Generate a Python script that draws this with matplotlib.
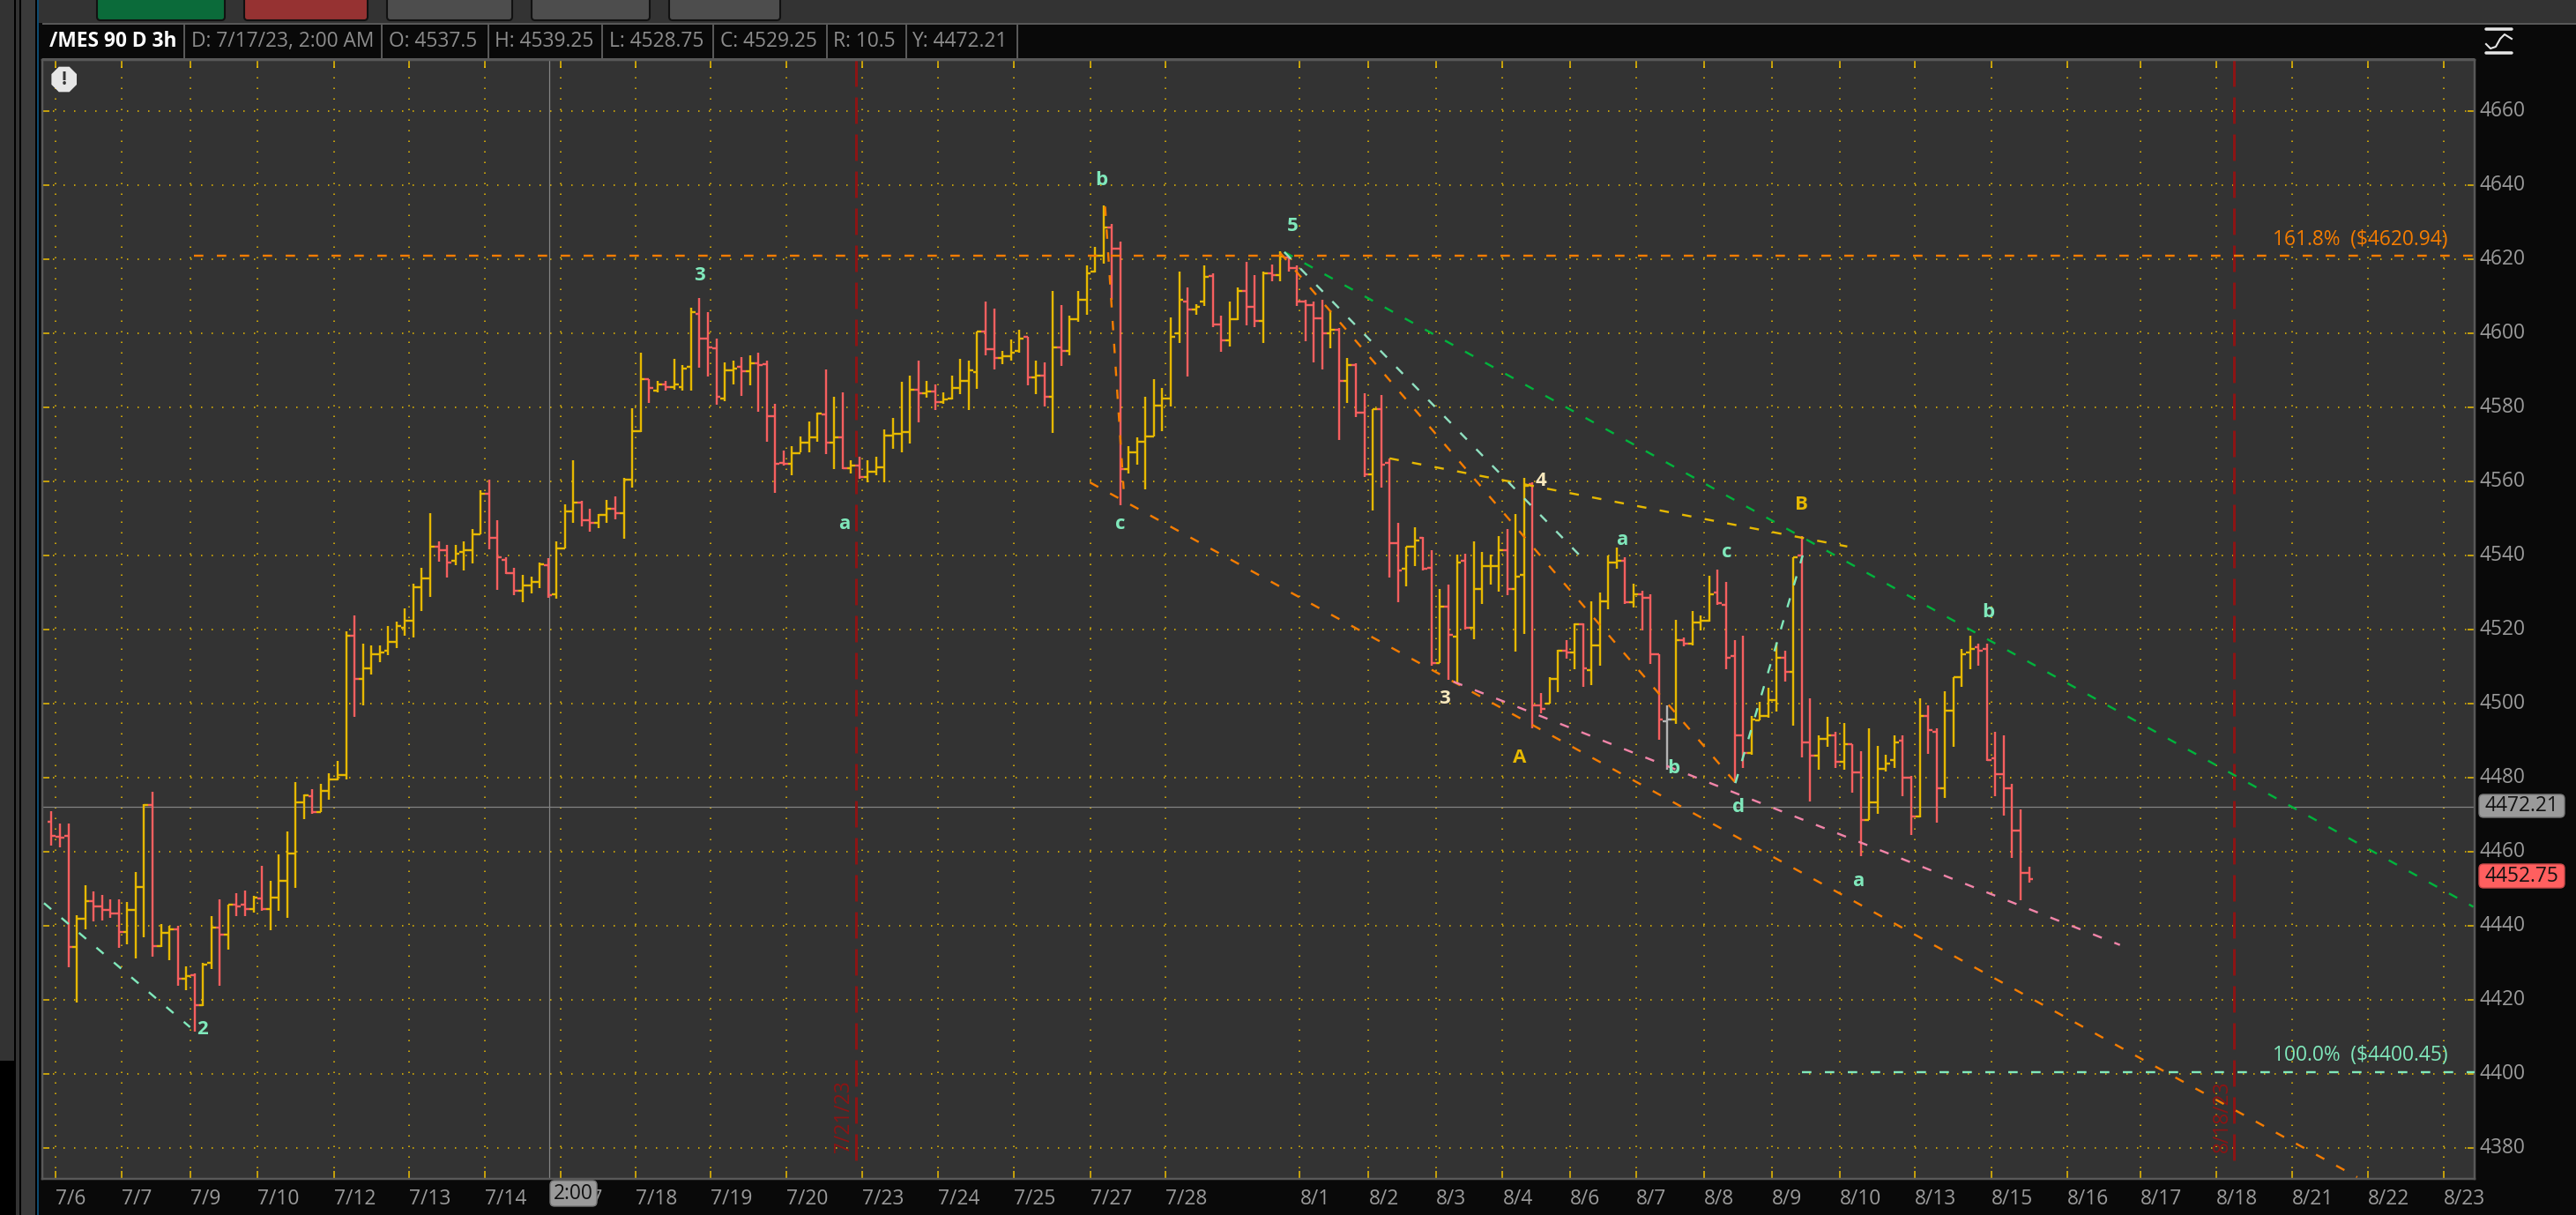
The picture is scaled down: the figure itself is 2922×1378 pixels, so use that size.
import matplotlib
matplotlib.use("Agg")
import matplotlib.pyplot as plt
from matplotlib.patches import Rectangle, FancyBboxPatch, RegularPolygon

plt.rcParams['font.family'] = ['Open Sans', 'DejaVu Sans']
plt.rcParams['lines.scale_dashes'] = False

# 3h bars of /MES
opens = [4468.1, 4464.2, 4464.4, 4434.3, 4441.9, 4446.7, 4445.2, 4444.4, 4443.4, 4438.5,
         4444.4, 4450.6, 4472.8, 4434.7, 4438.2, 4439.2, 4425.7, 4426.7, 4418.7, 4430.0,
         4439.5, 4437.8, 4445.7, 4445.7, 4444.7, 4447.5, 4444.7, 4447.8, 4452.2, 4459.6,
         4473.3, 4475.0, 4470.9, 4476.4, 4479.5, 4480.7, 4518.3, 4506.7, 4509.5, 4513.3,
         4514.3, 4516.7, 4520.5, 4522.4, 4531.4, 4533.8, 4542.4, 4541.4, 4538.6, 4541.0,
         4541.4, 4545.7, 4556.7, 4544.8, 4539.0, 4535.2, 4530.5, 4531.9, 4532.9, 4537.5,
         4529.5, 4541.9, 4551.9, 4554.3, 4549.6, 4549.0, 4551.0, 4552.8, 4551.4, 4560.5,
         4573.7, 4587.7, 4584.7, 4586.3, 4585.6, 4585.6, 4591.0, 4605.3, 4598.6, 4596.0,
         4582.4, 4590.0, 4591.1, 4589.8, 4591.9, 4591.7, 4577.7, 4565.0, 4564.8, 4567.6,
         4570.5, 4572.0, 4578.2, 4570.5, 4572.0, 4563.7, 4564.4, 4561.3, 4562.8, 4563.8,
         4572.4, 4572.9, 4573.3, 4584.8, 4583.8, 4584.3, 4581.4, 4582.5, 4585.2, 4587.1,
         4589.5, 4600.5, 4595.7, 4593.4, 4593.8, 4595.2, 4599.0, 4588.1, 4588.6, 4582.9,
         4596.2, 4595.2, 4603.8, 4609.0, 4616.7, 4621.0, 4628.6, 4622.9, 4563.3, 4567.9,
         4570.9, 4572.2, 4580.6, 4582.4, 4600.0, 4608.7, 4606.6, 4608.6, 4615.5, 4602.4,
         4598.2, 4603.8, 4611.5, 4607.1, 4603.3, 4616.3, 4615.7, 4620.6, 4617.6, 4608.6,
         4607.6, 4604.2, 4600.0, 4601.0, 4587.1, 4591.4, 4578.6, 4561.9, 4579.5, 4565.1,
         4543.3, 4536.5, 4542.5, 4544.8, 4536.7, 4511.0, 4526.2, 4518.1, 4538.6, 4520.5,
         4531.0, 4537.1, 4537.1, 4541.4, 4531.0, 4534.8, 4559.3, 4499.5, 4500.0, 4506.7,
         4514.3, 4513.8, 4521.4, 4509.1, 4515.7, 4527.6, 4538.1, 4538.6, 4527.5, 4529.5,
         4528.6, 4513.3, 4495.2, 4495.7, 4517.1, 4516.2, 4521.9, 4522.4, 4530.0, 4526.8,
         4512.9, 4491.4, 4486.7, 4495.6, 4496.7, 4501.0, 4512.4, 4508.6, 4540.0, 4489.5,
         4486.1, 4490.5, 4491.4, 4484.3, 4489.2, 4481.4, 4468.6, 4473.3, 4482.4, 4484.8,
         4490.0, 4480.0, 4469.5, 4496.7, 4492.4, 4477.1, 4498.1, 4507.1, 4513.8, 4515.2,
         4514.8, 4485.2, 4481.0, 4477.1, 4465.7, 4454.4]
highs = [4471.1, 4467.8, 4467.8, 4443.0, 4451.1, 4449.3, 4448.3, 4447.3, 4447.3, 4446.4,
         4454.5, 4473.0, 4476.3, 4440.6, 4440.1, 4440.1, 4429.2, 4427.2, 4430.0, 4442.6,
         4447.3, 4445.7, 4448.8, 4449.6, 4448.1, 4456.3, 4452.2, 4459.3, 4465.5, 4478.8,
         4475.6, 4476.9, 4478.3, 4481.2, 4484.5, 4519.6, 4524.0, 4516.3, 4515.8, 4515.8,
         4521.1, 4522.1, 4525.9, 4532.5, 4536.8, 4551.6, 4544.0, 4543.0, 4543.0, 4544.0,
         4547.3, 4557.8, 4560.6, 4549.7, 4539.5, 4536.8, 4534.9, 4534.4, 4538.1, 4539.25,
         4544.0, 4554.0, 4565.8, 4554.9, 4552.6, 4551.2, 4555.0, 4556.0, 4561.1, 4579.8,
         4594.9, 4587.7, 4587.3, 4587.3, 4593.1, 4591.5, 4606.9, 4609.7, 4605.9, 4598.7,
         4592.1, 4592.6, 4593.7, 4594.0, 4594.9, 4592.6, 4581.1, 4568.3, 4569.6, 4572.1,
         4576.3, 4578.7, 4590.2, 4583.0, 4584.0, 4565.9, 4566.8, 4565.9, 4566.8, 4574.0,
         4577.3, 4586.9, 4588.7, 4592.6, 4587.3, 4586.3, 4584.0, 4588.7, 4593.1, 4592.6,
         4600.6, 4608.7, 4606.8, 4595.4, 4598.3, 4601.1, 4599.2, 4592.6, 4592.1, 4611.6,
         4607.8, 4604.8, 4611.6, 4618.3, 4623.4, 4634.5, 4629.6, 4624.8, 4569.6, 4572.0,
         4582.9, 4587.7, 4585.3, 4604.4, 4616.7, 4612.5, 4607.9, 4618.3, 4616.3, 4604.9,
         4608.7, 4612.5, 4619.3, 4615.9, 4616.7, 4618.7, 4622.1, 4620.8, 4618.3, 4609.0,
         4608.7, 4609.1, 4606.3, 4601.4, 4593.4, 4591.9, 4583.9, 4579.6, 4583.4, 4566.3,
         4549.0, 4542.5, 4547.8, 4545.0, 4541.6, 4531.1, 4532.1, 4540.2, 4540.6, 4544.0,
         4541.1, 4540.2, 4545.4, 4547.2, 4551.2, 4561.1, 4559.9, 4503.0, 4507.1, 4514.7,
         4517.3, 4521.8, 4521.8, 4527.6, 4530.0, 4540.1, 4542.1, 4539.5, 4532.5, 4530.6,
         4529.5, 4513.3, 4499.6, 4522.6, 4517.9, 4525.0, 4523.8, 4534.5, 4536.3, 4532.9,
         4517.3, 4518.3, 4496.7, 4500.6, 4504.4, 4516.4, 4514.4, 4539.7, 4545.2, 4501.6,
         4491.5, 4496.4, 4492.5, 4494.9, 4489.2, 4487.3, 4493.5, 4488.7, 4486.3, 4491.6,
         4491.6, 4480.5, 4501.6, 4499.6, 4493.3, 4503.4, 4507.1, 4514.9, 4518.3, 4516.3,
         4516.3, 4492.5, 4491.5, 4478.3, 4471.4, 4456.0]
lows = [4461.7, 4461.2, 4429.0, 4419.3, 4439.2, 4441.3, 4441.6, 4442.1, 4434.1, 4435.1,
        4431.3, 4437.0, 4431.8, 4434.4, 4430.8, 4423.8, 4422.8, 4411.5, 4418.3, 4428.5,
        4423.8, 4433.7, 4442.6, 4442.6, 4443.7, 4444.2, 4439.0, 4444.2, 4442.1, 4450.4,
        4468.9, 4470.4, 4470.9, 4474.2, 4479.4, 4479.7, 4496.4, 4499.7, 4507.9, 4511.3,
        4513.2, 4515.1, 4518.4, 4517.9, 4525.1, 4528.9, 4538.4, 4534.1, 4537.5, 4536.0,
        4537.9, 4545.7, 4541.7, 4530.8, 4535.1, 4529.4, 4527.5, 4529.8, 4531.3, 4528.75,
        4528.4, 4541.9, 4548.9, 4547.9, 4546.4, 4547.5, 4548.8, 4549.8, 4544.6, 4558.3,
        4573.3, 4581.2, 4584.1, 4584.7, 4584.9, 4584.7, 4584.5, 4590.7, 4588.3, 4580.7,
        4581.7, 4586.3, 4583.1, 4586.0, 4578.8, 4570.8, 4556.9, 4564.3, 4561.7, 4567.9,
        4567.9, 4570.7, 4567.5, 4563.5, 4563.5, 4562.1, 4560.7, 4559.8, 4561.7, 4559.8,
        4568.8, 4567.9, 4570.2, 4576.0, 4582.7, 4579.3, 4581.0, 4582.1, 4583.6, 4579.3,
        4585.0, 4594.0, 4590.2, 4591.7, 4592.6, 4594.8, 4586.0, 4583.6, 4580.2, 4573.2,
        4591.2, 4594.0, 4603.2, 4605.0, 4616.4, 4618.9, 4609.1, 4553.7, 4562.3, 4564.7,
        4557.9, 4572.2, 4573.7, 4580.3, 4597.5, 4588.3, 4605.0, 4607.5, 4601.7, 4595.0,
        4596.4, 4603.6, 4602.2, 4601.7, 4597.4, 4614.1, 4614.1, 4616.7, 4607.5, 4598.0,
        4592.2, 4590.2, 4596.0, 4571.3, 4581.2, 4577.4, 4561.3, 4552.2, 4558.3, 4534.1,
        4527.5, 4531.7, 4537.3, 4536.1, 4510.3, 4511.0, 4506.5, 4505.6, 4520.0, 4517.5,
        4527.0, 4532.2, 4530.3, 4529.4, 4514.1, 4518.8, 4493.3, 4497.5, 4500.0, 4503.2,
        4512.1, 4509.4, 4504.6, 4505.0, 4510.2, 4525.6, 4536.5, 4527.0, 4526.0, 4519.8,
        4510.7, 4490.2, 4482.1, 4494.6, 4515.5, 4515.7, 4519.8, 4522.2, 4526.8, 4509.4,
        4478.6, 4482.7, 4486.3, 4495.6, 4496.2, 4498.0, 4506.0, 4494.2, 4485.6, 4473.6,
        4482.3, 4488.5, 4482.8, 4482.3, 4476.0, 4458.8, 4468.6, 4470.2, 4481.7, 4482.7,
        4475.0, 4464.5, 4469.4, 4486.5, 4467.9, 4474.6, 4488.3, 4504.5, 4509.3, 4510.2,
        4484.5, 4475.0, 4469.8, 4458.3, 4447.0, 4451.7]
closes = [4464.4, 4463.9, 4434.3, 4441.9, 4446.7, 4445.2, 4444.4, 4443.4, 4438.5, 4444.4,
          4450.6, 4472.8, 4434.7, 4438.2, 4439.2, 4425.7, 4426.5, 4418.7, 4429.6, 4439.5,
          4437.8, 4445.7, 4445.2, 4444.7, 4447.8, 4444.7, 4447.8, 4452.2, 4459.6, 4473.3,
          4475.2, 4470.9, 4476.4, 4479.5, 4480.7, 4518.3, 4506.7, 4509.5, 4513.3, 4513.8,
          4516.7, 4521.0, 4522.4, 4531.4, 4533.8, 4542.4, 4541.4, 4538.1, 4540.5, 4541.4,
          4545.7, 4556.7, 4544.8, 4539.5, 4535.2, 4530.5, 4531.9, 4532.9, 4537.6, 4529.25,
          4541.9, 4551.9, 4554.3, 4549.5, 4549.0, 4551.0, 4552.8, 4551.4, 4560.5, 4573.7,
          4587.7, 4585.2, 4586.3, 4585.6, 4586.3, 4590.5, 4605.8, 4598.6, 4596.2, 4582.9,
          4590.0, 4590.5, 4589.8, 4591.9, 4591.6, 4577.7, 4564.8, 4564.8, 4567.6, 4570.5,
          4572.0, 4578.3, 4570.5, 4572.0, 4563.7, 4564.4, 4561.3, 4562.8, 4563.8, 4572.4,
          4572.9, 4573.3, 4584.8, 4583.8, 4584.3, 4581.4, 4582.1, 4585.2, 4587.1, 4590.0,
          4600.5, 4595.7, 4593.4, 4593.8, 4594.8, 4598.6, 4588.1, 4588.6, 4582.9, 4596.2,
          4595.2, 4603.8, 4609.0, 4616.2, 4621.0, 4628.6, 4622.9, 4563.3, 4567.9, 4570.9,
          4572.2, 4580.6, 4582.4, 4599.0, 4609.1, 4606.6, 4607.1, 4615.2, 4602.4, 4598.2,
          4603.8, 4611.5, 4607.1, 4603.3, 4616.3, 4615.7, 4620.8, 4617.6, 4608.6, 4607.6,
          4604.2, 4600.0, 4601.0, 4587.1, 4591.4, 4578.6, 4561.9, 4579.5, 4564.7, 4543.3,
          4536.1, 4542.5, 4544.2, 4536.5, 4511.0, 4526.2, 4518.6, 4538.1, 4520.5, 4531.0,
          4537.1, 4537.1, 4541.4, 4531.0, 4534.3, 4559.0, 4499.5, 4498.6, 4506.7, 4514.3,
          4513.8, 4521.4, 4509.5, 4515.7, 4527.6, 4538.1, 4538.6, 4527.5, 4529.5, 4528.6,
          4513.3, 4495.7, 4495.7, 4517.1, 4516.2, 4521.9, 4522.4, 4529.5, 4527.1, 4512.4,
          4491.4, 4486.7, 4495.7, 4496.7, 4501.0, 4512.4, 4508.6, 4539.5, 4489.5, 4486.1,
          4490.5, 4491.4, 4484.3, 4489.2, 4481.4, 4468.6, 4473.3, 4482.4, 4483.8, 4489.5,
          4480.0, 4469.5, 4496.7, 4492.9, 4477.1, 4498.1, 4507.1, 4513.3, 4514.8, 4514.3,
          4484.8, 4481.0, 4477.1, 4465.7, 4454.4, 4452.75]
# bars that are painted against their own open/close direction
red_bars = [87]
gray_bars = [192]

tick_pos = [0.42, 8.37, 16.55, 24.5, 33.54, 42.51, 51.53, 60.55, 69.37, 78.31, 87.32, 96.33,
            105.34, 114.39, 123.42, 132.42, 148.34, 156.52, 164.49, 172.44, 180.41, 188.32,
            196.35, 204.45, 212.48, 221.43, 230.49, 239.51, 248.25, 257.29, 266.3, 275.3, 284.31]
tick_labels = ['7/6', '7/7', '7/9', '7/10', '7/12', '7/13', '7/14', '7/17', '7/18', '7/19', '7/20',
               '7/23', '7/24', '7/25', '7/27', '7/28', '8/1', '8/2', '8/3', '8/4', '8/6', '8/7',
               '8/8', '8/9', '8/10', '8/13', '8/15', '8/16', '8/17', '8/18', '8/21', '8/22', '8/23']
price_ticks = [4380, 4400, 4420, 4440, 4460, 4480, 4500, 4520, 4540, 4560, 4580, 4600, 4620, 4640, 4660]

YELLOW = '#e6b800'
RED = '#f65f5f'
GRID = '#f2c200'
MINT = '#80e8bb'
ORANGE = '#f57c00'
DARKRED = '#8c1414'
BG = '#333333'
BLACK = '#090909'
BORDER = '#585858'
LABEL = '#9a9a9a'

# trend lines: bar position pairs and price pairs
trend_lines = [
    ([-0.9, 16.46], [4446.2, 4412.7], MINT),
    ([123.4, 274.0], [4559.8, 4372.2], ORANGE),
    ([166.6, 245.8], [4506.0, 4434.9], '#f184a8'),
    ([159.0, 213.4], [4566.3, 4542.5], YELLOW),
    ([146.5, 287.8], [4622.0, 4445.2], '#00b33c'),
    ([146.5, 181.6], [4622.0, 4540.1], '#8fe0c0'),
    ([146.0, 200.0], [4621.8, 4479.0], ORANGE),
    ([200.1, 208.1], [4478.6, 4540.1], MINT),
    ([125.2, 127.4], [4634.3, 4558.0], ORANGE),
]
wave_labels = [
    ('2', 17.97, 4412.0, MINT), ('3', 77.05, 4615.6, MINT), ('a', 94.2, 4548.6, MINT),
    ('b', 124.8, 4641.3, MINT), ('c', 127.0, 4548.6, MINT), ('5', 147.5, 4629.0, MINT),
    ('4', 177.0, 4560.3, '#f7e8bd'), ('3', 165.5, 4501.3, '#f7e8bd'), ('A', 174.5, 4485.5, YELLOW),
    ('B', 208.0, 4553.7, YELLOW), ('a', 186.6, 4544.3, MINT), ('c', 199.1, 4541.0, MINT),
    ('b', 192.7, 4482.5, MINT), ('d', 200.5, 4472.2, MINT), ('b', 230.1, 4524.6, MINT),
    ('a', 214.7, 4452.2, MINT),
]
header_fields = ['D: 7/17/23, 2:00 AM', 'O: 4537.5', 'H: 4539.25', 'L: 4528.75', 'C: 4529.25', 'R: 10.5', 'Y: 4472.21']

W, H = 2922, 1378
px = 0.72  # one pixel in points at dpi 100
FS = 16.4
fig = plt.figure(figsize=(W / 100, H / 100), dpi=100, facecolor=BG)

# window chrome is laid out in screen pixels
chrome = fig.add_axes([0, 0, 1, 1], zorder=0)
chrome.set_xlim(0, W)
chrome.set_ylim(H, 0)
chrome.axis('off')

def box(x0, y0, x1, y1, color):
    chrome.add_patch(Rectangle((x0, y0), x1 - x0, y1 - y0, fc=color, ec='none'))

box(0, 1203, 16, H, '#000000')
box(16, 0, 18, H, '#000000')
box(22, 0, 24, H, '#000000')
box(24, 0, 40, H, '#3a3a3a')
box(40, 0, 42, H, '#000000')
box(42, 0, 44, H, '#0d4a70')
box(44, 26, 48, H, BLACK)
box(44, 1337, W, H, BLACK)
box(2807, 26, W, H, BLACK)
box(48, 26, 2807, 68, BLACK)
box(48, 26, W, 28, BORDER)
box(48, 66, 2807, 68, BORDER)

for x0, x1, color in [(110, 255, '#0b6b3a'), (277, 417, '#963232'), (439, 581, '#4d4d4d'),
                      (603, 737, '#4d4d4d'), (759, 885, '#4d4d4d')]:
    chrome.add_patch(FancyBboxPatch((x0, -12), x1 - x0, 35, boxstyle='round,pad=0,rounding_size=4',
                                    fc=color, ec='#111111', lw=1.5))

for x in [208, 432, 553, 682, 808, 937, 1027, 1153]:
    box(x, 28, x + 2, 66, BORDER)
chrome.text(56, 47, '/MES 90 D 3h', color='white', fontsize=16.4, fontweight='bold', va='center')
for x, s in zip([217, 441, 561, 691, 817, 945, 1034], header_fields):
    chrome.text(x, 47, s, color='#8c8c8c', fontsize=FS, va='center')

# indicator icon on the right of the header
chrome.plot([2820, 2849], [33, 33], color='#e6e6e6', lw=3.5 * px, solid_capstyle='round')
chrome.plot([2820, 2849], [60, 60], color='#e6e6e6', lw=3.5 * px, solid_capstyle='round')
chrome.plot([2820, 2825, 2831, 2836, 2841, 2849], [50, 55, 53, 44, 39, 44], color='#e6e6e6', lw=1.5)

ax = fig.add_axes([48 / W, (H - 1337) / H, (2807 - 48) / W, (1337 - 68) / H], zorder=1)
ax.set_facecolor(BG)
ax.set_xlim(-1.1, 287.95)
ax.set_ylim(4371.74, 4673.88)

grid_dots = (0, (1.5 * px, 10.5 * px))
ax.set_yticks(price_ticks)
ax.set_xticks(tick_pos)
ax.set_xticklabels(tick_labels, ha='left', color=LABEL, fontsize=FS)
ax.set_yticklabels([str(p) for p in price_ticks], color=LABEL, fontsize=FS)
ax.grid(True, color=GRID, lw=1.5 * px, linestyle=grid_dots, zorder=1)
ax.set_axisbelow(True)
ax.tick_params(axis='x', direction='in', length=9 * px, width=1.5 * px, color=GRID, top=True, bottom=True, pad=8)
ax.tick_params(axis='y', direction='in', length=8 * px, width=1.5 * px, color=GRID, left=True, right=True,
               labelleft=False, labelright=True, pad=4)
for label in ax.get_yticklabels():
    label.set_va('center')
for side in ax.spines.values():
    side.set_color(BORDER)
    side.set_linewidth(2.5 * px)

# OHLC bars
xs = list(range(len(opens)))
colors = []
for i in xs:
    if i in gray_bars:
        colors.append('#b4b4b4')
    elif closes[i] >= opens[i] and i not in red_bars:
        colors.append(YELLOW)
    else:
        colors.append(RED)
bar_w = 2.4 * px
ax.vlines(xs, lows, highs, colors=colors, lw=bar_w, zorder=3)
ax.hlines(opens, [x - 0.5 for x in xs], xs, colors=colors, lw=bar_w, zorder=3)
ax.hlines(closes, xs, [x + 0.5 for x in xs], colors=colors, lw=bar_w, zorder=3)

# crosshair
ax.axvline(59.1, color='#858585', lw=1.2 * px, zorder=2)
ax.axhline(4472.21, color='#858585', lw=1.2 * px, zorder=2)

# time markers
marker_dash = (0, (30 * px, 12 * px))
for x, s in [(95.57, '7/21/23'), (259.4, '8/18/23')]:
    ax.plot([x, x], [4673.88, 4374.4], color=DARKRED, lw=3 * px, linestyle=marker_dash,
            solid_capstyle='butt', dash_capstyle='butt', zorder=2)
    ax.text(x - 1.45, 4388.5, s, color=DARKRED, fontsize=FS, rotation=90, ha='center', va='center', zorder=2)

# fibonacci levels
draw_dash = (0, (10.7 * px, 15.3 * px))
ax.plot([16.9, 287.9], [4620.94, 4620.94], color=ORANGE, lw=2.4 * px, linestyle=draw_dash, dash_capstyle='butt', zorder=4)
ax.plot([208.0, 287.9], [4400.45, 4400.45], color=MINT, lw=2.4 * px, linestyle=draw_dash, dash_capstyle='butt', zorder=4)
ax.text(284.8, 4625.4, '161.8%  ($4620.94)', color=ORANGE, fontsize=FS, ha='right', va='center', zorder=5)
ax.text(284.8, 4405.0, '100.0%  ($4400.45)', color=MINT, fontsize=FS, ha='right', va='center', zorder=5)

for line_x, line_y, color in trend_lines:
    ax.plot(line_x, line_y, color=color, lw=2.4 * px, linestyle=draw_dash, dash_capstyle='butt', zorder=4)

for s, x, y, color in wave_labels:
    ax.text(x, y, s, color=color, fontsize=16, fontweight='bold', ha='center', va='center', zorder=5)

# overlays in screen pixels, above the plot
top = fig.add_axes([0, 0, 1, 1], zorder=2)
top.set_xlim(0, W)
top.set_ylim(H, 0)
top.axis('off')
top.add_patch(RegularPolygon((72.7, 90), 8, radius=15.5, orientation=0.3927, fc='#e6e6e6', ec='none'))
top.text(72.7, 90, '!', color='#333333', fontsize=15, fontweight='bold', ha='center', va='center')
top.add_patch(FancyBboxPatch((624, 1339), 53, 29, boxstyle='round,pad=0,rounding_size=5', fc='#9a9a9a', ec='#777777', lw=1))
top.text(650.5, 1354, '2:00', color='#111111', fontsize=FS, ha='center', va='center')
top.add_patch(FancyBboxPatch((2812, 901), 97, 26, boxstyle='round,pad=0,rounding_size=5', fc='#9a9a9a', ec='#777777', lw=1))
top.text(2860.5, 914, '4472.21', color='#111111', fontsize=FS, ha='center', va='center')
top.add_patch(FancyBboxPatch((2812, 980), 97, 27, boxstyle='round,pad=0,rounding_size=5', fc='#ff5f5f', ec='#c94a4a', lw=1))
top.text(2860.5, 993.5, '4452.75', color='#111111', fontsize=FS, ha='center', va='center')

fig.savefig('out.png', dpi=100, facecolor=fig.get_facecolor())
